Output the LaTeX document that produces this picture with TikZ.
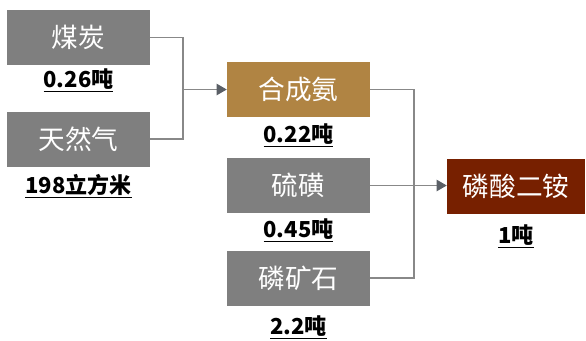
\documentclass[tikz,border=0pt]{standalone}
\usepackage{fontspec}
\setmainfont{Noto Sans CJK SC}
\usetikzlibrary{arrows.meta}
\definecolor{boxgray}{HTML}{7F7F7F}
\definecolor{boxgold}{HTML}{B08443}
\definecolor{boxred}{HTML}{772000}
\definecolor{linegray}{HTML}{888888}
\definecolor{tipgray}{HTML}{5A5F66}
\begin{document}
\begin{tikzpicture}[x=0.75pt,y=-0.75pt,
  box/.style={minimum width=107.25pt, minimum height=41.25pt, inner sep=0pt, text=white,
    font=\fontsize{20}{24}\selectfont},
  lab/.style={inner sep=0pt, font=\bfseries\fontsize{16.5}{19}\selectfont},
  conn/.style={draw=linegray, line width=0.8pt},
  arr/.style={conn, -{Triangle[length=7.5pt, width=8.5pt, color=tipgray]}}]
\useasboundingbox (0,0) rectangle (586,340);
\node[box, fill=boxgray] (coal) at (78.5,37.5) {煤炭};
\node[lab] (coallab) at (78.5,80) {\underline{0.26吨}};
\node[box, fill=boxgray] (gas) at (78.5,139) {天然气};
\node[lab] (gaslab) at (78.5,186) {\underline{198立方米}};
\node[box, fill=boxgold] (nh3) at (298.5,89.5) {合成氨};
\node[lab] (nh3lab) at (298.5,135) {\underline{0.22吨}};
\node[box, fill=boxgray] (sulf) at (298.5,185.5) {硫磺};
\node[lab] (sulflab) at (298.5,230) {\underline{0.45吨}};
\node[box, fill=boxgray] (rock) at (298.5,278) {磷矿石};
\node[lab] (rocklab) at (298.5,327) {\underline{2.2吨}};
\node[box, fill=boxred, minimum width=103.5pt] (dap) at (516,186.5) {磷酸二铵};
\node[lab] (daplab) at (516,236) {\underline{1吨}};
\coordinate (j1) at (183,89.5);
\coordinate (j2) at (414,185.5);
\draw[conn] (coal.east) -| (j1) |- (gas.east);
\draw[arr] (j1) -- (nh3.west);
\draw[conn] (nh3.east) -| (j2) |- (rock.east);
\draw[arr] (sulf.east) -- (sulf.east -| dap.west);
\end{tikzpicture}
\end{document}
